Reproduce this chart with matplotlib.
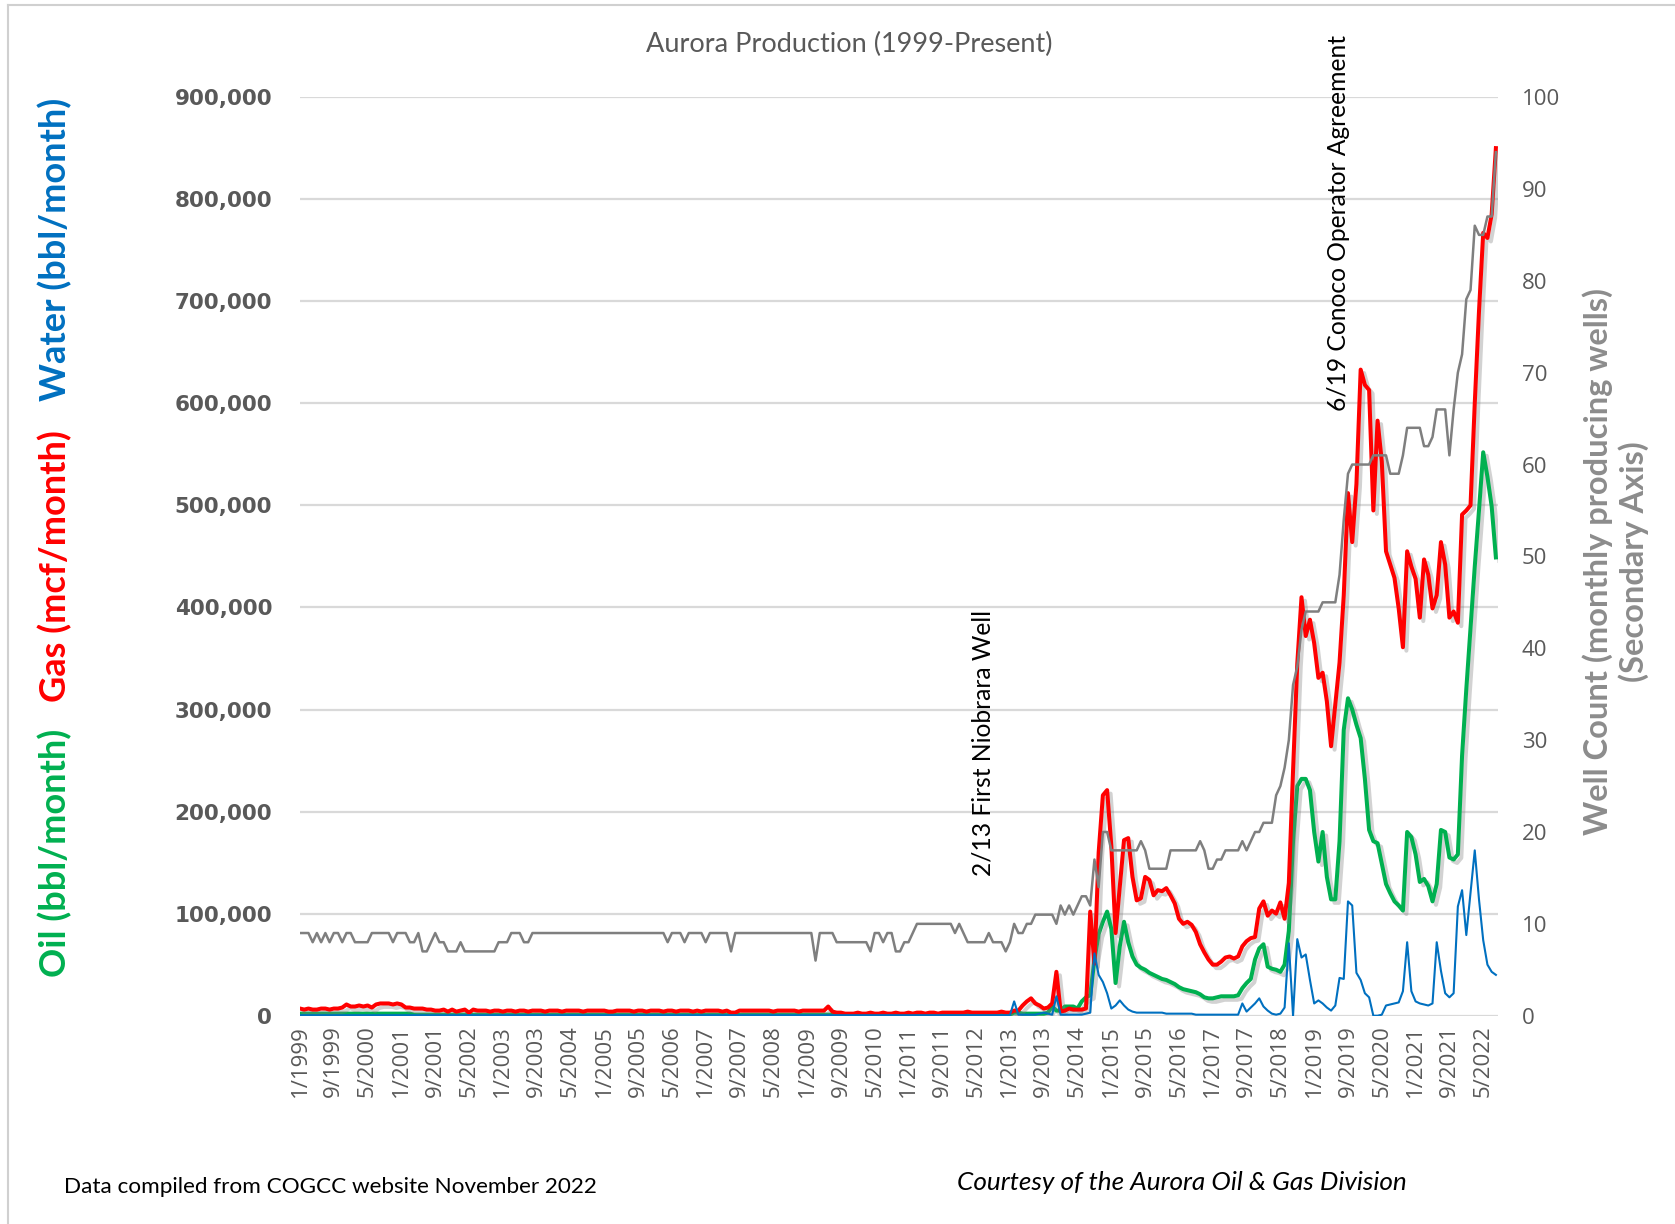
import matplotlib
matplotlib.use("Agg")
import matplotlib.pyplot as plt
import matplotlib.patheffects as pe
from matplotlib.lines import Line2D
import numpy as np

# ---------------- data (monthly, 1/1999 .. 8/2022) ----------------
tick_labels = ["1/1999", "9/1999", "5/2000", "1/2001", "9/2001", "5/2002", "1/2003", "9/2003",
               "5/2004", "1/2005", "9/2005", "5/2006", "1/2007", "9/2007", "5/2008", "1/2009",
               "9/2009", "5/2010", "1/2011", "9/2011", "5/2012", "1/2013", "9/2013", "5/2014",
               "1/2015", "9/2015", "5/2016", "1/2017", "9/2017", "5/2018", "1/2019", "9/2019",
               "5/2020", "1/2021", "9/2021", "5/2022"]

# Gas, thousand mcf / month
gas_k = [7, 6, 7, 6, 6, 7, 7, 6, 7, 7,
         8, 11, 9, 9, 10, 9, 10, 8, 11, 12,
         12, 12, 11, 12, 11, 8, 8, 7, 7, 7,
         6, 6, 5, 5, 6, 4, 6, 4, 5, 6,
         3, 6, 5, 5, 5, 4, 5, 5, 4, 5,
         5, 4, 5, 5, 4, 5, 5, 5, 4, 5,
         5, 5, 4, 5, 5, 5, 5, 4, 5, 5,
         5, 5, 5, 4, 4, 5, 5, 5, 5, 4,
         5, 5, 4, 5, 5, 5, 4, 5, 5, 4,
         5, 5, 5, 4, 5, 4, 5, 5, 5, 5,
         4, 5, 3, 3, 5, 5, 5, 5, 5, 5,
         5, 5, 4, 5, 5, 5, 5, 5, 4, 5,
         5, 5, 5, 5, 5, 9, 4, 3, 3, 2,
         2, 2, 3, 2, 2, 3, 2, 2, 3, 2,
         2, 3, 2, 2, 3, 2, 3, 3, 2, 3,
         3, 2, 3, 3, 3, 3, 3, 3, 4, 3,
         3, 3, 3, 3, 3, 3, 4, 3, 3, 5,
         5, 10, 14, 17, 12, 10, 7, 8, 12, 43,
         4, 5, 7, 6, 6, 6, 7, 102, 51, 160,
         216, 221, 166, 81, 126, 172, 174, 136, 113, 115,
         136, 133, 118, 123, 122, 125, 118, 110, 95, 90,
         92, 89, 82, 70, 62, 55, 50, 50, 53, 57,
         58, 56, 58, 68, 73, 76, 77, 105, 112, 98,
         103, 100, 111, 95, 130, 240, 345, 410, 372, 388,
         365, 331, 336, 308, 264, 305, 346, 412, 512, 464,
         521, 633, 618, 613, 495, 583, 543, 455, 442, 429,
         399, 361, 455, 440, 428, 390, 447, 432, 399, 412,
         464, 442, 390, 396, 385, 491, 495, 500, 600, 690,
         767, 762, 785, 850]

# Oil, thousand bbl / month
oil_k = [2, 2, 2, 2, 2, 2, 2, 2, 2, 2,
         2, 2, 2, 2, 2, 2, 2, 2, 2, 2,
         2, 2, 2, 2, 2, 2, 2, 1, 1, 1,
         1, 1, 1, 1, 1, 1, 1, 1, 1, 1,
         1, 1, 1, 1, 1, 1, 1, 1, 1, 1,
         1, 1, 1, 1, 1, 1, 1, 1, 1, 1,
         1, 1, 1, 1, 1, 1, 1, 1, 1, 1,
         1, 1, 1, 1, 1, 1, 1, 1, 1, 1,
         1, 1, 1, 1, 1, 1, 1, 1, 1, 1,
         1, 1, 1, 1, 1, 1, 1, 1, 1, 1,
         1, 1, 1, 1, 1, 1, 1, 1, 1, 1,
         1, 1, 1, 1, 1, 1, 1, 1, 1, 1,
         1, 1, 1, 1, 1, 1, 1, 1, 1, 1,
         1, 1, 1, 1, 1, 1, 1, 1, 1, 1,
         1, 1, 1, 1, 1, 1, 1, 1, 1, 1,
         1, 1, 1, 1, 1, 1, 1, 1, 1, 1,
         1, 1, 1, 1, 1, 1, 1, 1, 1, 3,
         3, 2, 2, 2, 2, 2, 2, 3, 9, 5,
         5, 9, 9, 9, 7, 14, 18, 20, 55, 80,
         92, 102, 85, 32, 68, 92, 72, 58, 50, 47,
         45, 42, 40, 38, 36, 35, 33, 31, 28, 26,
         25, 24, 23, 21, 18, 17, 17, 18, 19, 19,
         19, 19, 20, 27, 32, 36, 55, 66, 70, 48,
         46, 45, 43, 50, 83, 171, 225, 232, 232, 221,
         180, 151, 180, 136, 114, 114, 171, 280, 311, 300,
         285, 272, 232, 182, 171, 169, 149, 129, 120, 112,
         108, 103, 180, 175, 158, 131, 134, 127, 112, 129,
         182, 180, 155, 153, 158, 255, 320, 380, 440, 495,
         552, 528, 499, 449]

# Water, thousand bbl / month
water_k = [0.5, 0.5, 0.5, 0.5, 0.5, 0.5, 0.5, 0.5, 0.5, 0.5,
           0.5, 0.5, 0.5, 0.5, 0.5, 0.5, 0.5, 0.5, 0.5, 0.5,
           0.5, 0.5, 0.5, 0.5, 0.5, 0.5, 0.5, 0.5, 0.5, 0.5,
           0.5, 0.5, 0.5, 0.5, 0.5, 0.5, 0.5, 0.5, 0.5, 0.5,
           0.5, 0.5, 0.5, 0.5, 0.5, 0.5, 0.5, 0.5, 0.5, 0.5,
           0.5, 0.5, 0.5, 0.5, 0.5, 0.5, 0.5, 0.5, 0.5, 0.5,
           0.5, 0.5, 0.5, 0.5, 0.5, 0.5, 0.5, 0.5, 0.5, 0.5,
           0.5, 0.5, 0.5, 0.5, 0.5, 0.5, 0.5, 0.5, 0.5, 0.5,
           0.5, 0.5, 0.5, 0.5, 0.5, 0.5, 0.5, 0.5, 0.5, 0.5,
           0.5, 0.5, 0.5, 0.5, 0.5, 0.5, 0.5, 0.5, 0.5, 0.5,
           0.5, 0.5, 0.5, 0.5, 0.5, 0.5, 0.5, 0.5, 0.5, 0.5,
           0.5, 0.5, 0.5, 0.5, 0.5, 0.5, 0.5, 0.5, 0.5, 0.5,
           0.5, 0.5, 0.5, 0.5, 0.5, 0.5, 0.5, 0.5, 0.5, 0.5,
           0.5, 0.5, 0.5, 0.5, 0.5, 0.5, 0.5, 0.5, 0.5, 0.5,
           0.5, 0.5, 0.5, 0.5, 0.5, 0.5, 0.5, 0.5, 0.5, 0.5,
           0.5, 0.5, 0.5, 0.5, 0.5, 0.5, 0.5, 0.5, 0.5, 0.5,
           0.5, 0.5, 0.5, 0.5, 0.5, 0.5, 0.5, 0.5, 0.5, 14,
           1, 1, 1, 1, 1, 2, 3, 2, 1, 19,
           1, 1, 1, 1, 1, 1, 2, 3, 61, 40,
           33, 22, 7, 10, 15, 10, 6, 4, 3, 3,
           3, 3, 3, 3, 3, 2, 2, 2, 2, 2,
           2, 2, 1, 1, 1, 1, 1, 1, 1, 1,
           1, 1, 1, 12, 4, 8, 12, 17, 9, 5,
           2, 1, 2, 8, 71, 0, 75, 57, 60, 35,
           12, 15, 12, 8, 5, 10, 37, 36, 112, 108,
           42, 35, 22, 18, 0, 0, 1, 10, 11, 12,
           13, 24, 72, 24, 14, 12, 11, 10, 12, 72,
           44, 22, 18, 22, 107, 123, 79, 120, 162, 114,
           74, 50, 43, 40]

# Monthly producing wells (secondary axis)
wells = [9, 9, 9, 8, 9, 8, 9, 8, 9, 9,
         8, 9, 9, 8, 8, 8, 8, 9, 9, 9,
         9, 9, 8, 9, 9, 9, 8, 8, 9, 7,
         7, 8, 9, 8, 8, 7, 7, 7, 8, 7,
         7, 7, 7, 7, 7, 7, 7, 8, 8, 8,
         9, 9, 9, 8, 8, 9, 9, 9, 9, 9,
         9, 9, 9, 9, 9, 9, 9, 9, 9, 9,
         9, 9, 9, 9, 9, 9, 9, 9, 9, 9,
         9, 9, 9, 9, 9, 9, 9, 8, 9, 9,
         9, 8, 9, 9, 9, 9, 8, 9, 9, 9,
         9, 9, 7, 9, 9, 9, 9, 9, 9, 9,
         9, 9, 9, 9, 9, 9, 9, 9, 9, 9,
         9, 9, 6, 9, 9, 9, 9, 8, 8, 8,
         8, 8, 8, 8, 8, 7, 9, 9, 8, 9,
         9, 7, 7, 8, 8, 9, 10, 10, 10, 10,
         10, 10, 10, 10, 10, 9, 10, 9, 8, 8,
         8, 8, 8, 9, 8, 8, 8, 7, 8, 10,
         9, 9, 10, 10, 11, 11, 11, 11, 11, 10,
         12, 11, 12, 11, 12, 13, 13, 12, 17, 14,
         20, 20, 18, 18, 18, 18, 18, 18, 18, 19,
         18, 16, 16, 16, 16, 16, 18, 18, 18, 18,
         18, 18, 18, 19, 18, 16, 16, 17, 17, 18,
         18, 18, 18, 19, 18, 19, 20, 20, 21, 21,
         21, 24, 25, 27, 30, 36, 38, 42, 44, 44,
         44, 44, 45, 45, 45, 45, 48, 54, 59, 60,
         60, 60, 60, 60, 61, 61, 61, 61, 59, 59,
         59, 61, 64, 64, 64, 64, 62, 62, 63, 66,
         66, 66, 61, 66, 70, 72, 78, 79, 86, 85,
         85, 87, 87, 94]

# ---------------- figure ----------------
W, H = 1675, 1224
fig = plt.figure(figsize=(W / 100, H / 100), dpi=100)
fig.patch.set_facecolor("white")

ax = fig.add_axes([300 / W, 1 - 1015.7 / H, 1198 / W, 918.6 / H])
ax2 = ax.twinx()

x = np.arange(len(gas_k))
gas = np.array(gas_k) * 1000
oil = np.array(oil_k) * 1000
water = np.array(water_k) * 1000

shadow = [pe.SimpleLineShadow(offset=(2.5, -2.5), shadow_color="#808080", alpha=0.35), pe.Normal()]

ax.plot(x, oil, color="#00b050", lw=2.9, solid_joinstyle="round", path_effects=shadow, zorder=3)
ax.plot(x, gas, color="#ff0000", lw=2.9, solid_joinstyle="round", path_effects=shadow, zorder=4)
ax.plot(x, water, color="#0070c0", lw=1.5, solid_joinstyle="round", zorder=5)
ax2.plot(np.arange(len(wells)), wells, color="#7f7f7f", lw=1.8, solid_joinstyle="round")

ax.set_xlim(0, 283.5)
ax.set_ylim(0, 900000)
ax2.set_ylim(0, 100)

ax.set_axisbelow(True)
ax.yaxis.grid(True, color="#d9d9d9", lw=1.6)
ax.xaxis.grid(False)
for a in (ax, ax2):
    for s in a.spines.values():
        s.set_visible(False)
ax.patch.set_alpha(0)

yt = np.arange(0, 900001, 100000)
ax.set_yticks(yt)
ax.set_yticklabels([f"{int(v):,}" for v in yt], fontsize=15.5, fontweight="bold",
                   color="#595959", family="DejaVu Sans")
ax.tick_params(axis="y", length=0, pad=20)

y2 = np.arange(0, 101, 10)
ax2.set_yticks(y2)
ax2.set_yticklabels([str(v) for v in y2], fontsize=16, color="#595959", family="Open Sans")
ax2.tick_params(axis="y", length=0, pad=17)

ax.set_xticks(np.arange(0, 8 * len(tick_labels), 8))
ax.set_xticklabels(tick_labels, rotation=90, fontsize=16, color="#595959", family="Open Sans")
ax.tick_params(axis="x", length=0, pad=7)

# ---------------- texts ----------------
fig.text(849 / W, 1 - 44 / H, "Aurora Production (1999-Present)", ha="center", va="center",
         fontsize=19.5, color="#595959", family="Lato")

lab_kw = dict(rotation=90, ha="center", va="center", fontsize=26, fontweight="bold", family="Lato")
fig.text(55.5 / W, 1 - 853 / H, "Oil (bbl/month)", color="#00b050", **lab_kw)
fig.text(55.5 / W, 1 - 566 / H, "Gas (mcf/month)", color="#ff0000", **lab_kw)
fig.text(55.5 / W, 1 - 249 / H, "Water (bbl/month)", color="#0070c0", **lab_kw)

fig.text(1616 / W, 1 - 562 / H, "Well Count (monthly producing wells)\n(Secondary Axis)",
         rotation=90, ha="center", va="center", multialignment="center",
         fontsize=23.5, fontweight="bold", color="#8c8c8c", family="Lato", linespacing=1.2)

fig.text(983 / W, 1 - 876 / H, "2/13 First Niobrara Well", rotation=90, ha="center", va="bottom",
         fontsize=17.7, color="black", family="Lato")
fig.text(1339 / W, 1 - 411 / H, "6/19 Conoco Operator Agreement", rotation=90, ha="center", va="bottom",
         fontsize=17.7, color="black", family="Lato")

fig.text(64 / W, 1 - 1187 / H, "Data compiled from COGCC website November 2022", ha="left", va="center",
         fontsize=16.2, color="black", family="Lato")
fig.text(1182 / W, 1 - 1182 / H, "Courtesy of the Aurora Oil & Gas Division", ha="center", va="center",
         fontsize=18.8, color="black", family="Lato", style="italic")

# chart frame (left and top edges)
fig.add_artist(Line2D([7.5 / W, 7.5 / W], [0, 1 - 5 / H], color="#d0d0d0", lw=1.5))
fig.add_artist(Line2D([7.5 / W, 1], [1 - 5 / H, 1 - 5 / H], color="#d0d0d0", lw=1.5))

fig.savefig("out.png", dpi=100, facecolor="white")
